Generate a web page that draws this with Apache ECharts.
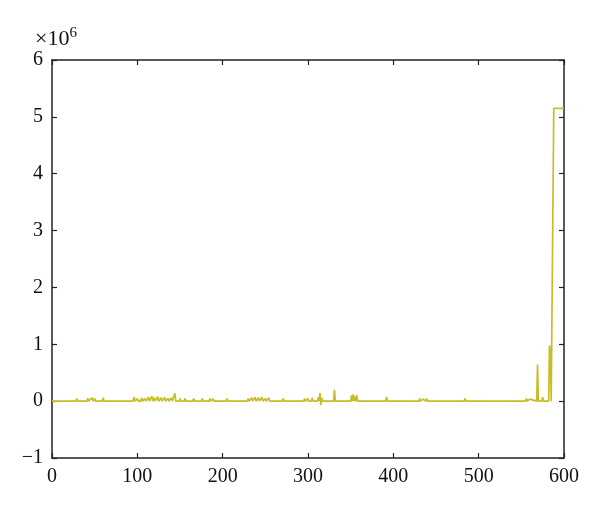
<!DOCTYPE html>
<html>
<head>
<meta charset="utf-8">
<script src="https://cdn.jsdelivr.net/npm/echarts@6/dist/echarts.min.js"></script>
<style>
html,body{margin:0;padding:0;background:#fff;}
#chart{width:600px;height:511px;}
</style>
</head>
<body>
<div id="chart"></div>
<script>
// Series points [x, value]; baseline points included explicitly
const lowRange = [
  [0,0],
  [28,0],[29,45000],[30,0],
  [41,0],[42,50000],[43,0],[44,35000],[45,0],[47,60000],[48,0],[50,45000],[51,0],
  [59,0],[60,60000],[61,0],
  [71,0],[72,35000],[73,0],
  [95,0],[96,70000],[97,0],[99,0],[100,45000],[101,0],[104,0],[105,60000],[106,0],
  [108,0],[109,45000],[110,0],[112,0],[113,70000],[114,0],[116,0],[117,90000],[118,0],
  [120,60000],[121,0],[123,0],[124,80000],[125,0],[127,0],[128,60000],[129,0],
  [131,0],[132,70000],[133,0],[135,0],[136,50000],[137,0],[139,0],[140,60000],[141,0],
  [143,0],[144,140000],[145,0],
  [149,0],[150,45000],[151,0],
  [155,0],[156,45000],[157,0],
  [165,0],[166,45000],[167,0],
  [175,0],[176,45000],[177,0],
  [184,0],[185,45000],[186,0],[188,0],[189,40000],[190,0],[195,0],
  [204,0],[205,45000],[206,0]
];
const midRange = [
  [229,0],[230,45000],[231,0],[233,0],[234,60000],[235,0],[237,0],[238,70000],[239,0],
  [241,0],[242,60000],[243,0],[245,0],[246,70000],[247,0],[249,0],[250,45000],[251,0],
  [253,0],[254,60000],[255,0],
  [270,0],[271,45000],[272,0],
  [289,0],[290,35000],[291,0],[295,0],[296,45000],[297,0],[299,0],[300,45000],[301,0],
  [304,0],[305,60000],[306,0],
  [311,0],[312,70000],[313,0],[314,140000],[315,-70000],[316,60000],[317,0],
  [330,0],[331,200000],[332,0],
  [350,0],[351,100000],[352,0],[353,120000],[354,0],[355,80000],[356,0],[357,110000],[358,0],
  [372,0],[373,35000],[374,0],
  [391,0],[392,75000],[393,0],
  [415,0],[416,35000],[417,0],
  [430,0],[431,45000],[432,0],[434,0],[435,35000],[436,0],[438,0],[439,45000],[440,0],
  [483,0],[484,45000],[485,0]
];
const highRange = [
  [551,0],[552,35000],[553,0],[555,0],[556,45000],[557,0],[559,0],[560,35000],[561,0],
  [568,0],[569,645000],[570,0],
  [574,0],[575,70000],[576,0],
  [582,0],[583,980000],[584,850000],[585,0],[586,-30000],[587,0],[587.5,0],
  [588,5150000],[600,5150000]
];
const xTicks = [0,100,200,300,400,500,600];
const yTicks = [-1,0,1,2,3,4,5,6];

const font = '"Liberation Serif","DejaVu Serif",serif';
const axisColor = '#222';
const chart = echarts.init(document.getElementById('chart'), null, {renderer:'canvas'});
const data = lowRange.concat(midRange, highRange);

function xAxisCfg(pos, showLabel){
  return {
    type:'value', position:pos, min:xTicks[0], max:xTicks[xTicks.length-1], interval:100,
    axisLine:{show:true, onZero:false, lineStyle:{color:axisColor, width:1.5}},
    axisTick:{show:true, inside:true, length:5, lineStyle:{color:axisColor, width:1.2}},
    axisLabel:{show:showLabel, margin:9, fontFamily:font, fontSize:20, color:'#111'},
    splitLine:{show:false}
  };
}
function yAxisCfg(pos, showLabel){
  return {
    type:'value', position:pos, min:yTicks[0]*1e6, max:yTicks[yTicks.length-1]*1e6, interval:1000000,
    axisLine:{show:true, onZero:false, lineStyle:{color:axisColor, width:1.5}},
    axisTick:{show:true, inside:true, length:5, lineStyle:{color:axisColor, width:1.2}},
    axisLabel:{show:showLabel, margin:9, fontFamily:font, fontSize:20, color:'#111',
      formatter:v=>{const n=Math.round(v/1e6); return n<0?'\u2212'+Math.abs(n):String(n);}},
    splitLine:{show:false}
  };
}

chart.setOption({
  animation:false,
  backgroundColor:'#fff',
  grid:{left:52, right:36, top:60, bottom:53, containLabel:false},
  xAxis:[xAxisCfg('bottom', true), xAxisCfg('top', false)],
  yAxis:[yAxisCfg('left', true), yAxisCfg('right', false)],
  graphic:[{
    type:'text', left:35, top:26,
    style:{
      text:'\u00d710{s|6}',
      rich:{s:{fontSize:15, fontFamily:font, fill:'#111', verticalAlign:'top', padding:[0,0,11,0]}},
      fontFamily:font, fontSize:22, fill:'#111'
    }
  }],
  series:[{
    type:'line', data:data, xAxisIndex:0, yAxisIndex:0,
    showSymbol:false, symbol:'none',
    lineStyle:{color:'#c6bd28', width:1.7},
    z:1
  }]
});
</script>
</body>
</html>
